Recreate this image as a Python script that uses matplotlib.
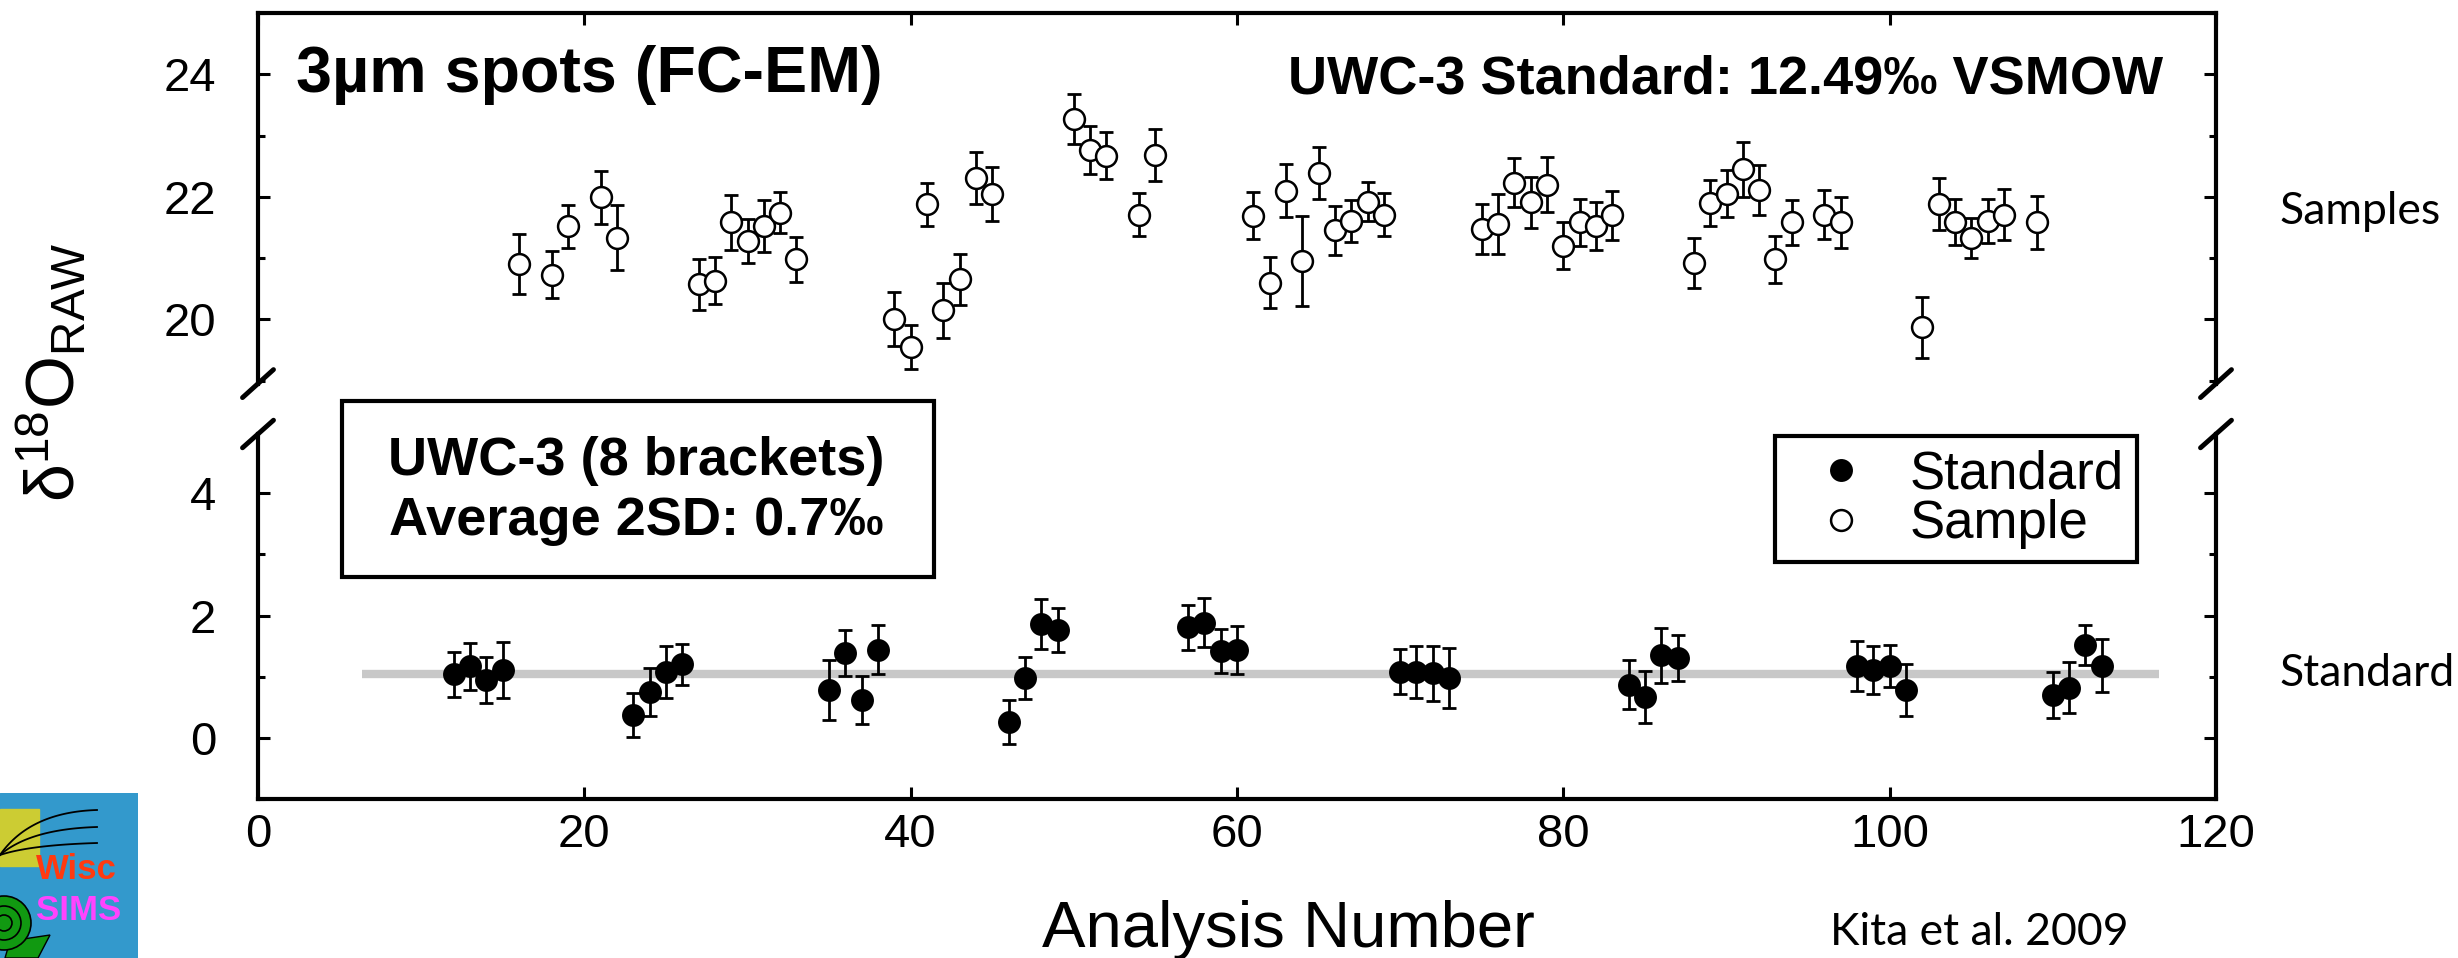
import matplotlib
matplotlib.use('Agg')
import matplotlib.pyplot as plt
import numpy as np
from matplotlib.patches import Rectangle, Circle, Polygon
from matplotlib.ticker import MultipleLocator

plt.rcParams['font.family'] = ['Liberation Sans', 'DejaVu Sans']
plt.rcParams['mathtext.fontset'] = 'custom'
plt.rcParams['mathtext.rm'] = 'Liberation Sans'
plt.rcParams['mathtext.it'] = 'Liberation Sans:italic'
plt.rcParams['mathtext.bf'] = 'Liberation Sans:bold'

# Samples (open circles, upper panel)
sample_x = [16, 18, 19, 21, 22, 27, 28, 29, 30, 31, 32, 33, 39, 40, 41, 42, 43, 44, 45,
            50, 51, 52, 54, 55, 61, 62, 63, 64, 65, 66, 67, 68, 69, 75, 76, 77, 78, 79,
            80, 81, 82, 83, 88, 89, 90, 91, 92, 93, 94, 96, 97, 102, 103, 104, 105,
            106, 107, 109]
sample_y = [20.90, 20.73, 21.52, 21.99, 21.33, 20.57, 20.63, 21.58, 21.28, 21.52, 21.74,
            20.98, 20.00, 19.55, 21.88, 20.15, 20.65, 22.31, 22.04, 23.27, 22.76, 22.67,
            21.71, 22.68, 21.69, 20.60, 22.10, 20.95, 22.39, 21.45, 21.60, 21.92, 21.71,
            21.47, 21.56, 22.23, 21.91, 22.20, 21.20, 21.58, 21.52, 21.70, 20.92, 21.90,
            22.05, 22.45, 22.11, 20.98, 21.58, 21.71, 21.58, 19.87, 21.88, 21.59, 21.33,
            21.60, 21.71, 21.58]
sample_err = [0.49, 0.39, 0.35, 0.43, 0.53, 0.42, 0.38, 0.45, 0.36, 0.42, 0.33, 0.37,
              0.44, 0.36, 0.35, 0.45, 0.41, 0.42, 0.44, 0.41, 0.39, 0.38, 0.35, 0.43,
              0.38, 0.41, 0.43, 0.74, 0.43, 0.40, 0.34, 0.32, 0.35, 0.41, 0.49, 0.40,
              0.42, 0.45, 0.38, 0.39, 0.39, 0.40, 0.41, 0.38, 0.38, 0.45, 0.41, 0.38,
              0.37, 0.40, 0.42, 0.50, 0.43, 0.37, 0.33, 0.36, 0.41, 0.43]

# UWC-3 standard brackets (filled circles, lower panel)
std_x = [12, 13, 14, 15, 23, 24, 25, 26, 35, 36, 37, 38, 46, 47, 48, 49, 57, 58, 59, 60,
         70, 71, 72, 73, 84, 85, 86, 87, 98, 99, 100, 101, 110, 111, 112, 113]
std_y = [1.04, 1.17, 0.95, 1.11, 0.38, 0.75, 1.08, 1.20, 0.79, 1.39, 0.62, 1.44, 0.26,
         0.98, 1.86, 1.77, 1.81, 1.88, 1.42, 1.44, 1.08, 1.08, 1.06, 0.98, 0.87, 0.67,
         1.35, 1.31, 1.18, 1.11, 1.18, 0.78, 0.70, 0.82, 1.52, 1.18]
std_err = [0.37, 0.38, 0.38, 0.45, 0.36, 0.40, 0.43, 0.34, 0.49, 0.38, 0.39, 0.40, 0.36,
           0.35, 0.41, 0.36, 0.37, 0.40, 0.36, 0.39, 0.37, 0.42, 0.45, 0.49, 0.40, 0.42,
           0.45, 0.38, 0.41, 0.40, 0.34, 0.42, 0.38, 0.42, 0.33, 0.43]

std_mean = 1.05
std_span = [6.4, 116.5]

x_ticks = [0, 20, 40, 60, 80, 100, 120]

W, H = 2458, 958
fig = plt.figure(figsize=(W / 100, H / 100), dpi=100)

left = 258 / W
width = (2216 - 258) / W
ax_top = fig.add_axes([left, 1 - 383.6 / H, width, 370.6 / H])
ax_bot = fig.add_axes([left, 1 - 799 / H, width, 365 / H])

ax_top.set_ylim(18.95, 25)
ax_bot.set_ylim(-1, 4.97)
for ax in (ax_top, ax_bot):
    ax.set_xlim(0, 120)
    ax.set_xticks(x_ticks)
    ax.yaxis.set_major_locator(MultipleLocator(2))
    ax.yaxis.set_minor_locator(MultipleLocator(1))
    for s in ax.spines.values():
        s.set_linewidth(3)
    ax.tick_params(axis='both', which='major', direction='in', length=8.6, width=2.2,
                   labelsize=34)
    ax.tick_params(axis='both', which='minor', direction='in', length=5, width=2.2)
    ax.tick_params(axis='y', which='both', left=True, right=True, pad=30)
    ax.tick_params(axis='x', pad=10)

ax_top.spines['bottom'].set_visible(False)
ax_top.tick_params(axis='x', which='both', bottom=False, top=True, labelbottom=False)
ax_bot.spines['top'].set_visible(False)
ax_bot.tick_params(axis='x', which='both', bottom=True, top=False)

# error bars + markers
ax_top.errorbar(sample_x, sample_y, yerr=sample_err, fmt='none', ecolor='black',
                elinewidth=2, capsize=5, capthick=2, zorder=2)
h_sample, = ax_top.plot(sample_x, sample_y, 'o', ms=15, mfc='white', mec='black',
                        mew=1.8, zorder=3, label='Sample')

ax_bot.plot(std_span, [std_mean, std_mean], color='#c8c8c8', lw=6, zorder=1,
            solid_capstyle='butt')
ax_bot.errorbar(std_x, std_y, yerr=std_err, fmt='none', ecolor='black',
                elinewidth=2, capsize=5, capthick=2, zorder=2)
h_std, = ax_bot.plot(std_x, std_y, 'o', ms=15, mfc='black', mec='black',
                     mew=1.5, zorder=3, label='Standard')

# break marks
dx, dy = 15.5 / 1958, 14 / 370.6
kw = dict(color='black', lw=3.5, clip_on=False, solid_capstyle='round')
for xx in (0, 1):
    ax_top.plot([xx - dx, xx + dx], [-dy, dy], transform=ax_top.transAxes, **kw)
    ax_bot.plot([xx - dx, xx + dx], [1 - dy, 1 + dy], transform=ax_bot.transAxes, **kw)

leg = ax_bot.legend([h_std, h_sample], ['Standard', 'Sample'], loc='upper left',
                    bbox_to_anchor=(1775 / W, 1 - 436 / H), bbox_transform=fig.transFigure,
                    fontsize=38, fancybox=False, edgecolor='black', framealpha=1,
                    borderpad=0.25, labelspacing=0.0, handlelength=2.0,
                    handletextpad=0.3, borderaxespad=0)
leg.get_frame().set_linewidth(3)

# texts
fig.text(296 / W, 1 - 92 / H, '3µm spots (FC-EM)', fontsize=46.5, fontweight='bold',
         ha='left', va='baseline')
fig.text(2163 / W, 1 - 93 / H, 'UWC-3 Standard: 12.49‰ VSMOW', fontsize=39,
         fontweight='bold', ha='right', va='baseline')

fig.patches.append(Rectangle((342 / W, 1 - 577 / H), 592 / W, 176 / H, fill=False,
                             edgecolor='black', lw=3, transform=fig.transFigure))
fig.text(636 / W, 1 - 475 / H, 'UWC-3 (8 brackets)', fontsize=39, fontweight='bold',
         ha='center', va='baseline')
fig.text(636 / W, 1 - 535 / H, 'Average 2SD: 0.7‰', fontsize=39, fontweight='bold',
         ha='center', va='baseline')

fig.text(1288 / W, 1 - 947 / H, 'Analysis Number', fontsize=47, ha='center',
         va='baseline')
fig.text(52 / W, 1 - 372 / H, r'$\mathrm{δ}^{18}\mathrm{O}_{\mathrm{RAW}}$',
         fontsize=49, rotation=90, ha='center', va='center')

side = ['Lato', 'DejaVu Sans']
fig.text(2279 / W, 1 - 212 / H, 'Samples', fontsize=32, family=side, ha='left',
         va='center')
fig.text(2279 / W, 1 - 674 / H, 'Standard', fontsize=32, family=side, ha='left',
         va='center')
fig.text(1830 / W, 1 - 945 / H, 'Kita et al. 2009', fontsize=32, family=side,
         ha='left', va='baseline')

# WiscSIMS logo (simple sketch)
lg = fig.add_axes([0, 0, 138 / W, 165 / H])
lg.set_xlim(0, 138)
lg.set_ylim(165, 0)
lg.axis('off')
lg.add_patch(Rectangle((0, 0), 138, 165, color='#3399cc'))
lg.add_patch(Rectangle((0, 16), 39, 57, color='#cccc33'))
t = np.linspace(0, 1, 50)
for ye in (17, 34, 50):
    xs = 2 * (1 - t) * t * 30 + t ** 2 * 97
    ys = (1 - t) ** 2 * 62 + 2 * (1 - t) * t * (ye + 2) + t ** 2 * ye
    lg.plot(xs, ys, color='black', lw=1.3)
lg.add_patch(Polygon([[10, 148], [50, 142], [38, 165], [5, 165]], closed=True,
                     facecolor='#119911', edgecolor='black', lw=1))
lg.add_patch(Circle((4, 130), 27, facecolor='#119911', edgecolor='black', lw=1.2))
lg.add_patch(Circle((4, 130), 17, fill=False, edgecolor='black', lw=1.2))
lg.add_patch(Circle((4, 130), 8, fill=False, edgecolor='black', lw=1.2))
lg.text(36, 86, 'Wisc', color='#ff3a10', fontsize=25, fontweight='heavy', ha='left',
        va='baseline')
lg.text(36, 127, 'SIMS', color='#ff44ff', fontsize=25, fontweight='heavy', ha='left',
        va='baseline')

fig.savefig('out.png', dpi=100)
